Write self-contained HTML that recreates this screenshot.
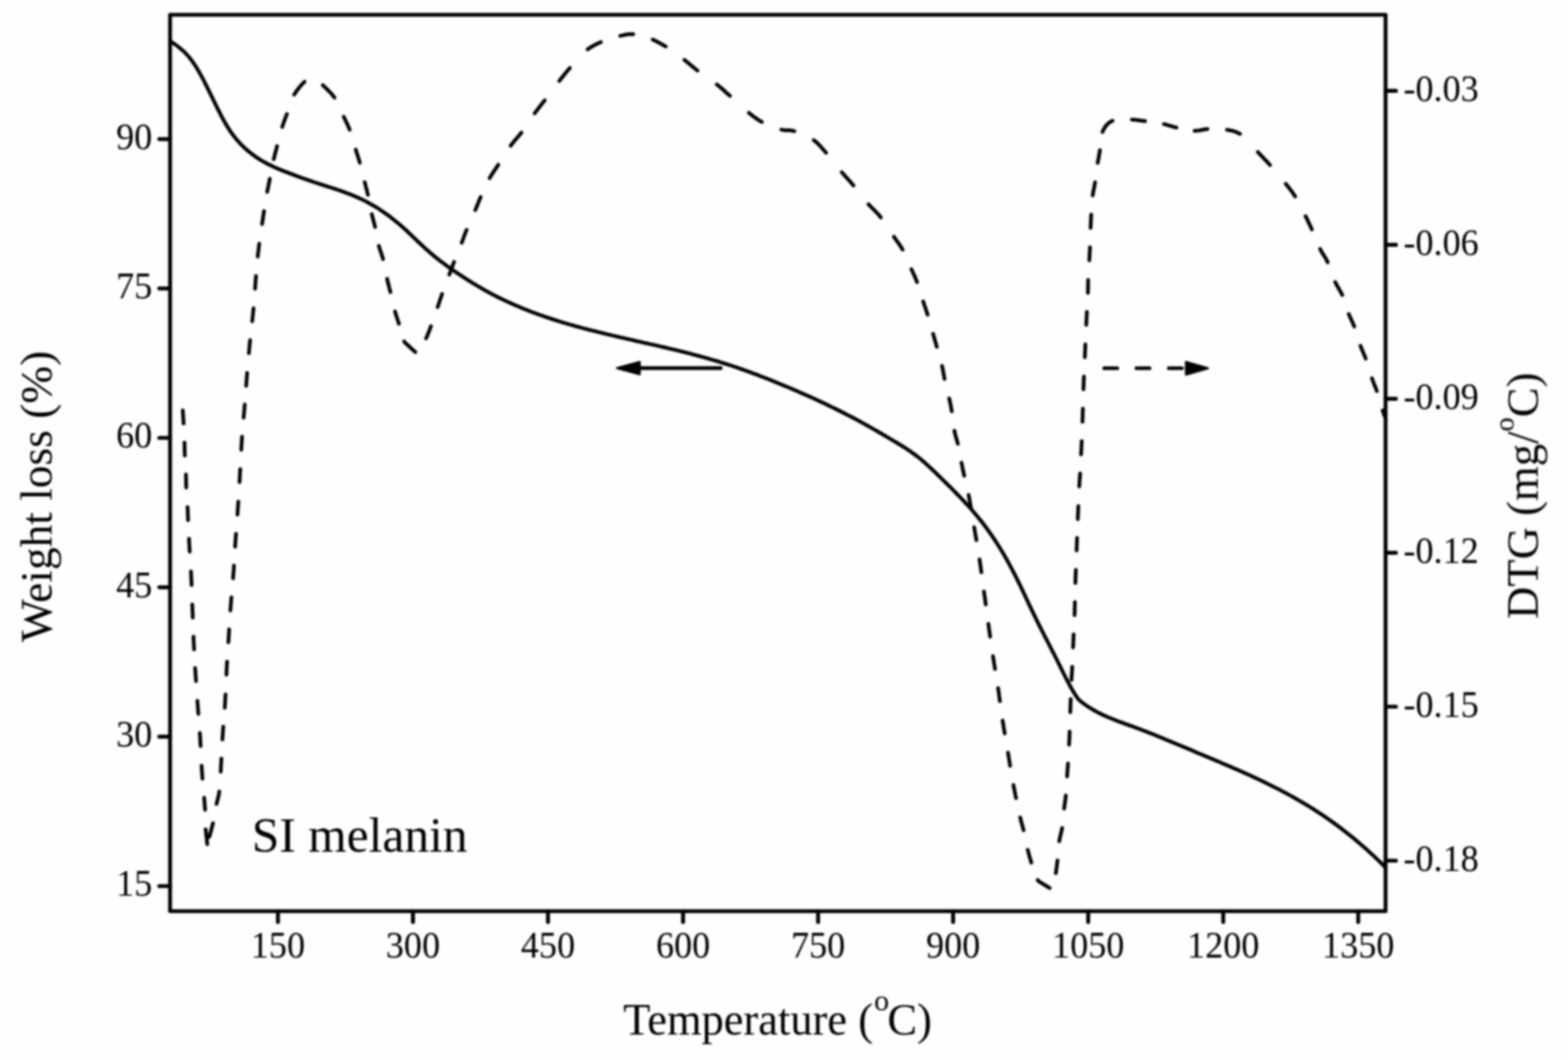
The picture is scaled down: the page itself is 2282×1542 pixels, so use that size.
<!DOCTYPE html>
<html><head><meta charset="utf-8"><title>SI melanin TG/DTG</title>
<style>
html,body{margin:0;padding:0;background:#fff;}
body{width:2282px;height:1542px;overflow:hidden;}
svg{display:block;}
text{font-family:"Liberation Serif","Times New Roman",serif;fill:#000;}
</style></head><body>
<svg width="2282" height="1542" viewBox="0 0 2282 1542">
<rect x="0" y="0" width="2282" height="1542" fill="#fefefe"/>
<g style="filter:blur(1.4px)">
<g stroke="#000" stroke-width="5.7" fill="none" stroke-linecap="round">
<line x1="404.5" y1="1325.5" x2="404.5" y2="1341.2"/>
<line x1="601.0" y1="1325.5" x2="601.0" y2="1341.2"/>
<line x1="797.5" y1="1325.5" x2="797.5" y2="1341.2"/>
<line x1="994.1" y1="1325.5" x2="994.1" y2="1341.2"/>
<line x1="1190.6" y1="1325.5" x2="1190.6" y2="1341.2"/>
<line x1="1387.1" y1="1325.5" x2="1387.1" y2="1341.2"/>
<line x1="1583.7" y1="1325.5" x2="1583.7" y2="1341.2"/>
<line x1="1780.2" y1="1325.5" x2="1780.2" y2="1341.2"/>
<line x1="1976.7" y1="1325.5" x2="1976.7" y2="1341.2"/>
<line x1="231.8" y1="1289.0" x2="247.5" y2="1289.0"/>
<line x1="231.8" y1="1071.7" x2="247.5" y2="1071.7"/>
<line x1="231.8" y1="854.3" x2="247.5" y2="854.3"/>
<line x1="231.8" y1="637.0" x2="247.5" y2="637.0"/>
<line x1="231.8" y1="419.6" x2="247.5" y2="419.6"/>
<line x1="231.8" y1="202.3" x2="247.5" y2="202.3"/>
<line x1="2016.5" y1="132.2" x2="2031.6" y2="132.2"/>
<line x1="2016.5" y1="356.2" x2="2031.6" y2="356.2"/>
<line x1="2016.5" y1="580.1" x2="2031.6" y2="580.1"/>
<line x1="2016.5" y1="804.1" x2="2031.6" y2="804.1"/>
<line x1="2016.5" y1="1028.0" x2="2031.6" y2="1028.0"/>
<line x1="2016.5" y1="1252.0" x2="2031.6" y2="1252.0"/>
</g>
<path d="M248.5 60.5 C249.5 61.2 252.5 63.0 254.5 64.4 C256.5 65.8 258.5 67.2 260.5 68.8 C262.5 70.4 264.5 72.1 266.5 73.9 C268.5 75.8 270.5 77.8 272.5 80.0 C274.5 82.2 276.5 84.6 278.5 87.3 C280.5 89.9 282.5 92.8 284.5 95.9 C286.5 99.0 288.5 102.4 290.5 106.0 C292.5 109.5 294.5 113.3 296.6 117.2 C298.6 121.1 300.6 125.1 302.6 129.2 C304.6 133.2 306.6 137.4 308.6 141.5 C310.6 145.6 312.6 149.7 314.6 153.8 C316.6 157.8 318.6 161.8 320.6 165.7 C322.6 169.5 324.6 173.3 326.6 176.9 C328.6 180.4 330.6 183.8 332.6 187.0 C334.6 190.1 336.6 193.0 338.6 195.7 C340.6 198.5 342.6 200.9 344.6 203.3 C346.6 205.6 348.6 207.8 350.6 209.9 C352.6 211.9 354.6 213.8 356.6 215.7 C358.6 217.5 360.6 219.2 362.6 220.9 C364.6 222.5 366.6 224.0 368.6 225.5 C370.6 227.0 372.6 228.4 374.6 229.7 C376.6 231.1 378.6 232.3 380.6 233.5 C382.6 234.7 384.6 235.8 386.6 236.9 C388.6 238.0 390.7 239.0 392.7 240.0 C394.7 241.0 396.7 241.9 398.7 242.9 C400.7 243.8 402.7 244.6 404.7 245.5 C406.7 246.3 408.7 247.2 410.7 248.0 C412.7 248.8 414.7 249.6 416.7 250.3 C418.7 251.1 420.7 251.9 422.7 252.6 C424.7 253.4 426.7 254.2 428.7 254.9 C430.7 255.6 432.7 256.4 434.7 257.1 C436.7 257.8 438.7 258.6 440.7 259.3 C442.7 260.0 444.7 260.7 446.7 261.4 C448.7 262.1 450.7 262.8 452.7 263.4 C454.7 264.1 456.7 264.8 458.7 265.5 C460.7 266.1 462.7 266.8 464.7 267.4 C466.7 268.1 468.7 268.7 470.7 269.4 C472.7 270.0 474.7 270.7 476.7 271.3 C478.7 271.9 480.7 272.6 482.7 273.2 C484.8 273.9 486.8 274.6 488.8 275.2 C490.8 275.9 492.8 276.6 494.8 277.3 C496.8 278.0 498.8 278.7 500.8 279.4 C502.8 280.1 504.8 280.9 506.8 281.6 C508.8 282.4 510.8 283.2 512.8 284.0 C514.8 284.8 516.8 285.7 518.8 286.5 C520.8 287.4 522.8 288.3 524.8 289.2 C526.8 290.2 528.8 291.1 530.8 292.2 C532.8 293.2 534.8 294.2 536.8 295.3 C538.8 296.4 540.8 297.5 542.8 298.7 C544.8 299.8 546.8 301.0 548.8 302.3 C550.8 303.5 552.8 304.8 554.8 306.2 C556.8 307.5 558.8 308.9 560.8 310.3 C562.8 311.8 564.8 313.2 566.8 314.7 C568.8 316.2 570.8 317.8 572.8 319.4 C574.8 321.0 576.8 322.6 578.9 324.3 C580.9 326.0 582.9 327.7 584.9 329.4 C586.9 331.2 588.9 333.0 590.9 334.8 C592.9 336.7 594.9 338.6 596.9 340.5 C598.9 342.4 600.9 344.3 602.9 346.2 C604.9 348.1 606.9 350.0 608.9 352.0 C610.9 353.9 612.9 355.8 614.9 357.6 C616.9 359.5 618.9 361.4 620.9 363.1 C622.9 364.9 624.9 366.7 626.9 368.4 C628.9 370.1 630.9 371.8 632.9 373.4 C634.9 375.0 636.9 376.6 638.9 378.1 C640.9 379.7 642.9 381.2 644.9 382.7 C646.9 384.2 648.9 385.7 650.9 387.1 C652.9 388.5 654.9 390.0 656.9 391.4 C658.9 392.8 660.9 394.2 662.9 395.5 C664.9 396.9 666.9 398.3 668.9 399.6 C670.9 400.9 672.9 402.2 675.0 403.6 C677.0 404.9 679.0 406.1 681.0 407.4 C683.0 408.7 685.0 409.9 687.0 411.2 C689.0 412.4 691.0 413.6 693.0 414.8 C695.0 416.0 697.0 417.2 699.0 418.3 C701.0 419.5 703.0 420.6 705.0 421.8 C707.0 422.9 709.0 424.0 711.0 425.1 C713.0 426.1 715.0 427.2 717.0 428.3 C719.0 429.3 721.0 430.3 723.0 431.3 C725.0 432.4 727.0 433.4 729.0 434.3 C731.0 435.3 733.0 436.3 735.0 437.2 C737.0 438.2 739.0 439.1 741.0 440.0 C743.0 440.9 745.0 441.8 747.0 442.7 C749.0 443.6 751.0 444.5 753.0 445.3 C755.0 446.2 757.0 447.0 759.0 447.9 C761.0 448.7 763.0 449.5 765.0 450.3 C767.0 451.1 769.1 451.9 771.1 452.7 C773.1 453.4 775.1 454.2 777.1 455.0 C779.1 455.7 781.1 456.4 783.1 457.2 C785.1 457.9 787.1 458.6 789.1 459.3 C791.1 460.0 793.1 460.7 795.1 461.4 C797.1 462.1 799.1 462.7 801.1 463.4 C803.1 464.1 805.1 464.7 807.1 465.4 C809.1 466.0 811.1 466.6 813.1 467.2 C815.1 467.9 817.1 468.5 819.1 469.1 C821.1 469.7 823.1 470.3 825.1 470.9 C827.1 471.5 829.1 472.0 831.1 472.6 C833.1 473.2 835.1 473.7 837.1 474.3 C839.1 474.9 841.1 475.4 843.1 475.9 C845.1 476.5 847.1 477.0 849.1 477.6 C851.1 478.1 853.1 478.6 855.1 479.1 C857.1 479.7 859.1 480.2 861.1 480.7 C863.2 481.2 865.2 481.7 867.2 482.2 C869.2 482.7 871.2 483.2 873.2 483.7 C875.2 484.2 877.2 484.6 879.2 485.1 C881.2 485.6 883.2 486.1 885.2 486.6 C887.2 487.0 889.2 487.5 891.2 488.0 C893.2 488.5 895.2 488.9 897.2 489.4 C899.2 489.9 901.2 490.3 903.2 490.8 C905.2 491.2 907.2 491.7 909.2 492.2 C911.2 492.6 913.2 493.1 915.2 493.5 C917.2 494.0 919.2 494.4 921.2 494.9 C923.2 495.4 925.2 495.8 927.2 496.3 C929.2 496.7 931.2 497.2 933.2 497.6 C935.2 498.1 937.2 498.5 939.2 499.0 C941.2 499.4 943.2 499.9 945.2 500.3 C947.2 500.8 949.2 501.3 951.2 501.7 C953.2 502.2 955.2 502.6 957.3 503.1 C959.3 503.5 961.3 504.0 963.3 504.5 C965.3 504.9 967.3 505.4 969.3 505.9 C971.3 506.4 973.3 506.8 975.3 507.3 C977.3 507.8 979.3 508.3 981.3 508.7 C983.3 509.2 985.3 509.7 987.3 510.2 C989.3 510.7 991.3 511.2 993.3 511.7 C995.3 512.2 997.3 512.7 999.3 513.2 C1001.3 513.7 1003.3 514.2 1005.3 514.7 C1007.3 515.3 1009.3 515.8 1011.3 516.3 C1013.3 516.8 1015.3 517.4 1017.3 517.9 C1019.3 518.5 1021.3 519.0 1023.3 519.6 C1025.3 520.1 1027.3 520.7 1029.3 521.2 C1031.3 521.8 1033.3 522.4 1035.3 523.0 C1037.3 523.5 1039.3 524.1 1041.3 524.7 C1043.3 525.3 1045.3 525.9 1047.3 526.5 C1049.3 527.2 1051.4 527.8 1053.4 528.4 C1055.4 529.0 1057.4 529.7 1059.4 530.3 C1061.4 531.0 1063.4 531.6 1065.4 532.3 C1067.4 533.0 1069.4 533.6 1071.4 534.3 C1073.4 535.0 1075.4 535.7 1077.4 536.4 C1079.4 537.1 1081.4 537.8 1083.4 538.5 C1085.4 539.2 1087.4 539.9 1089.4 540.6 C1091.4 541.4 1093.4 542.1 1095.4 542.9 C1097.4 543.6 1099.4 544.3 1101.4 545.1 C1103.4 545.9 1105.4 546.6 1107.4 547.4 C1109.4 548.2 1111.4 548.9 1113.4 549.7 C1115.4 550.5 1117.4 551.3 1119.4 552.1 C1121.4 552.9 1123.4 553.7 1125.4 554.5 C1127.4 555.3 1129.4 556.1 1131.4 556.9 C1133.4 557.7 1135.4 558.6 1137.4 559.4 C1139.4 560.2 1141.4 561.1 1143.4 561.9 C1145.5 562.7 1147.5 563.6 1149.5 564.4 C1151.5 565.3 1153.5 566.1 1155.5 567.0 C1157.5 567.9 1159.5 568.7 1161.5 569.6 C1163.5 570.5 1165.5 571.3 1167.5 572.2 C1169.5 573.1 1171.5 574.0 1173.5 574.9 C1175.5 575.7 1177.5 576.6 1179.5 577.5 C1181.5 578.4 1183.5 579.4 1185.5 580.3 C1187.5 581.2 1189.5 582.1 1191.5 583.0 C1193.5 584.0 1195.5 584.9 1197.5 585.8 C1199.5 586.8 1201.5 587.7 1203.5 588.7 C1205.5 589.6 1207.5 590.6 1209.5 591.6 C1211.5 592.5 1213.5 593.5 1215.5 594.5 C1217.5 595.5 1219.5 596.5 1221.5 597.5 C1223.5 598.5 1225.5 599.5 1227.5 600.5 C1229.5 601.5 1231.5 602.6 1233.5 603.6 C1235.5 604.6 1237.5 605.7 1239.6 606.7 C1241.6 607.8 1243.6 608.9 1245.6 609.9 C1247.6 611.0 1249.6 612.1 1251.6 613.2 C1253.6 614.3 1255.6 615.4 1257.6 616.5 C1259.6 617.6 1261.6 618.7 1263.6 619.8 C1265.6 620.9 1267.6 622.1 1269.6 623.2 C1271.6 624.4 1273.6 625.5 1275.6 626.6 C1277.6 627.8 1279.6 629.0 1281.6 630.1 C1283.6 631.3 1285.6 632.5 1287.6 633.6 C1289.6 634.8 1291.6 636.0 1293.6 637.2 C1295.6 638.4 1297.6 639.6 1299.6 640.8 C1301.6 642.0 1303.6 643.2 1305.6 644.4 C1307.6 645.6 1309.6 646.8 1311.6 648.0 C1313.6 649.3 1315.6 650.5 1317.6 651.8 C1319.6 653.1 1321.6 654.4 1323.6 655.8 C1325.6 657.2 1327.6 658.5 1329.6 660.0 C1331.6 661.5 1333.6 663.0 1335.7 664.5 C1337.7 666.1 1339.7 667.7 1341.7 669.4 C1343.7 671.1 1345.7 672.9 1347.7 674.7 C1349.7 676.5 1351.7 678.3 1353.7 680.2 C1355.7 682.0 1357.7 684.0 1359.7 685.9 C1361.7 687.8 1363.7 689.8 1365.7 691.7 C1367.7 693.7 1369.7 695.7 1371.7 697.6 C1373.7 699.6 1375.7 701.5 1377.7 703.5 C1379.7 705.5 1381.7 707.5 1383.7 709.4 C1385.7 711.4 1387.7 713.4 1389.7 715.5 C1391.7 717.5 1393.7 719.5 1395.7 721.6 C1397.7 723.6 1399.7 725.7 1401.7 727.8 C1403.7 730.0 1405.7 732.1 1407.7 734.3 C1409.7 736.5 1411.7 738.7 1413.7 741.0 C1415.7 743.3 1417.7 745.6 1419.7 748.0 C1421.7 750.4 1423.7 752.8 1425.7 755.3 C1427.7 757.8 1429.8 760.4 1431.8 763.0 C1433.8 765.6 1435.8 768.3 1437.8 771.1 C1439.8 773.8 1441.8 776.7 1443.8 779.6 C1445.8 782.5 1447.8 785.5 1449.8 788.6 C1451.8 791.7 1453.8 794.8 1455.8 798.1 C1457.8 801.4 1459.8 804.7 1461.8 808.2 C1463.8 811.6 1465.8 815.2 1467.8 818.8 C1469.8 822.5 1471.8 826.2 1473.8 830.0 C1475.8 833.8 1477.8 837.7 1479.8 841.7 C1481.8 845.7 1483.8 849.8 1485.8 854.0 C1487.8 858.1 1489.8 862.4 1491.8 866.7 C1493.8 870.9 1495.8 875.3 1497.8 879.5 C1499.8 883.7 1501.8 887.9 1503.8 892.0 C1505.8 896.1 1507.8 900.2 1509.8 904.2 C1511.8 908.2 1513.8 912.2 1515.8 916.2 C1517.8 920.1 1519.8 924.1 1521.8 928.0 C1523.9 931.9 1525.9 935.8 1527.9 939.8 C1529.9 943.7 1531.9 947.6 1533.9 951.5 C1535.9 955.4 1537.9 959.4 1539.9 963.4 C1541.9 967.4 1543.9 971.6 1545.9 975.6 C1547.9 979.6 1549.9 983.7 1551.9 987.6 C1553.9 991.5 1555.9 995.3 1557.9 998.9 C1559.9 1002.5 1561.9 1005.9 1563.9 1009.0 C1565.9 1012.1 1567.9 1015.3 1569.9 1017.6 C1571.9 1019.8 1573.9 1021.0 1575.9 1022.6 C1577.9 1024.1 1579.9 1025.5 1582.0 1026.9 C1584.0 1028.2 1586.0 1029.5 1588.0 1030.7 C1590.0 1032.0 1592.0 1033.1 1594.0 1034.3 C1596.0 1035.4 1598.0 1036.4 1600.0 1037.5 C1602.1 1038.5 1604.1 1039.5 1606.1 1040.4 C1608.1 1041.4 1610.1 1042.2 1612.1 1043.1 C1614.1 1044.0 1616.1 1044.8 1618.1 1045.6 C1620.1 1046.4 1622.1 1047.2 1624.2 1048.0 C1626.2 1048.8 1628.2 1049.5 1630.2 1050.3 C1632.2 1051.0 1634.2 1051.7 1636.2 1052.4 C1638.2 1053.2 1640.2 1053.9 1642.2 1054.6 C1644.3 1055.3 1646.3 1056.0 1648.3 1056.8 C1650.3 1057.5 1652.3 1058.3 1654.3 1059.0 C1656.3 1059.7 1658.3 1060.5 1660.3 1061.3 C1662.3 1062.0 1664.3 1062.8 1666.4 1063.6 C1668.4 1064.4 1670.4 1065.1 1672.4 1065.9 C1674.4 1066.7 1676.4 1067.5 1678.4 1068.3 C1680.4 1069.1 1682.4 1069.9 1684.4 1070.7 C1686.4 1071.5 1688.5 1072.4 1690.5 1073.2 C1692.5 1074.0 1694.5 1074.8 1696.5 1075.7 C1698.5 1076.5 1700.5 1077.3 1702.5 1078.2 C1704.5 1079.0 1706.5 1079.8 1708.6 1080.7 C1710.6 1081.5 1712.6 1082.3 1714.6 1083.2 C1716.6 1084.0 1718.6 1084.9 1720.6 1085.7 C1722.6 1086.6 1724.6 1087.4 1726.6 1088.3 C1728.6 1089.1 1730.7 1090.0 1732.7 1090.8 C1734.7 1091.7 1736.7 1092.5 1738.7 1093.4 C1740.7 1094.2 1742.7 1095.1 1744.7 1095.9 C1746.7 1096.8 1748.7 1097.6 1750.8 1098.5 C1752.8 1099.3 1754.8 1100.1 1756.8 1101.0 C1758.8 1101.8 1760.8 1102.7 1762.8 1103.5 C1764.8 1104.4 1766.8 1105.2 1768.8 1106.1 C1770.8 1106.9 1772.9 1107.8 1774.9 1108.6 C1776.9 1109.5 1778.9 1110.3 1780.9 1111.2 C1782.9 1112.0 1784.9 1112.9 1786.9 1113.8 C1788.9 1114.6 1790.9 1115.5 1793.0 1116.4 C1795.0 1117.2 1797.0 1118.1 1799.0 1119.0 C1801.0 1119.9 1803.0 1120.7 1805.0 1121.6 C1807.0 1122.5 1809.0 1123.4 1811.0 1124.3 C1813.0 1125.2 1815.1 1126.1 1817.1 1127.0 C1819.1 1127.9 1821.1 1128.9 1823.1 1129.8 C1825.1 1130.7 1827.1 1131.7 1829.1 1132.6 C1831.1 1133.5 1833.1 1134.5 1835.1 1135.4 C1837.2 1136.4 1839.2 1137.4 1841.2 1138.3 C1843.2 1139.3 1845.2 1140.3 1847.2 1141.3 C1849.2 1142.3 1851.2 1143.3 1853.2 1144.3 C1855.2 1145.3 1857.3 1146.3 1859.3 1147.4 C1861.3 1148.4 1863.3 1149.4 1865.3 1150.5 C1867.3 1151.6 1869.3 1152.6 1871.3 1153.7 C1873.3 1154.8 1875.3 1155.9 1877.3 1157.0 C1879.4 1158.1 1881.4 1159.2 1883.4 1160.4 C1885.4 1161.5 1887.4 1162.6 1889.4 1163.8 C1891.4 1165.0 1893.4 1166.1 1895.4 1167.3 C1897.4 1168.5 1899.5 1169.7 1901.5 1170.9 C1903.5 1172.1 1905.5 1173.4 1907.5 1174.6 C1909.5 1175.9 1911.5 1177.2 1913.5 1178.4 C1915.5 1179.7 1917.5 1181.0 1919.5 1182.3 C1921.6 1183.7 1923.6 1185.0 1925.6 1186.3 C1927.6 1187.7 1929.6 1189.1 1931.6 1190.5 C1933.6 1191.8 1935.6 1193.3 1937.6 1194.7 C1939.6 1196.1 1941.6 1197.6 1943.7 1199.0 C1945.7 1200.5 1947.7 1202.0 1949.7 1203.5 C1951.7 1205.0 1953.7 1206.5 1955.7 1208.1 C1957.7 1209.6 1959.7 1211.2 1961.7 1212.8 C1963.8 1214.4 1965.8 1216.0 1967.8 1217.6 C1969.8 1219.3 1971.8 1220.9 1973.8 1222.6 C1975.8 1224.3 1977.8 1226.0 1979.8 1227.7 C1981.8 1229.4 1983.8 1231.2 1985.9 1233.0 C1987.9 1234.7 1989.9 1236.5 1991.9 1238.4 C1993.9 1240.2 1995.9 1242.0 1997.9 1243.9 C1999.9 1245.8 2001.9 1247.7 2003.9 1249.6 C2006.0 1251.6 2008.0 1253.5 2010.0 1255.5 C2012.0 1257.5 2015.0 1260.5 2016.0 1261.5" fill="none" stroke="#000" stroke-width="5.4" stroke-linejoin="round" stroke-linecap="round"/>
<path d="M266.0 597.0 L266.1 597.9 L266.1 598.9 L266.2 600.0 L266.3 601.4 L266.4 602.8 L266.5 604.4 L266.6 606.0 L266.7 607.8 L266.9 609.6 L267.0 611.4 L267.1 613.4 L267.2 615.3 L267.2 616.1 M268.5 643.8 L268.6 645.6 L268.6 647.2 L268.6 648.8 L268.7 650.2 L268.7 651.6 L268.7 653.0 L268.7 654.3 L268.8 655.6 L268.8 657.0 L268.8 658.5 L268.9 660.0 L268.9 661.6 L269.0 662.7 M270.6 690.1 L270.6 691.7 L270.7 693.3 L270.8 694.8 L270.8 696.3 L270.8 697.7 L270.8 699.1 L270.8 700.4 L270.8 701.7 L270.9 703.1 L270.9 704.6 L270.9 706.1 L271.0 707.7 L271.1 709.4 M273.0 737.7 L273.0 739.1 L273.1 740.9 L273.2 742.6 L273.3 744.1 L273.3 745.5 L273.4 746.9 L273.4 748.2 L273.4 749.5 L273.5 750.9 L273.5 752.3 L273.6 753.9 L273.6 755.5 L273.7 756.7 M275.1 783.6 L275.1 785.1 L275.2 786.5 L275.3 788.0 L275.4 789.5 L275.4 791.0 L275.5 792.5 L275.6 794.0 L275.7 795.5 L275.8 797.0 L275.9 798.5 L275.9 800.0 L276.0 801.6 L276.1 802.6 M277.9 831.2 L278.0 832.8 L278.1 834.4 L278.2 836.1 L278.2 837.9 L278.3 839.7 L278.4 841.4 L278.5 842.7 L278.5 844.0 L278.6 845.3 L278.6 846.7 L278.7 848.0 L278.8 849.4 L278.8 850.9 M279.8 879.3 L279.9 880.9 L280.0 882.4 L280.0 884.0 L280.1 885.5 L280.1 887.0 L280.2 888.5 L280.2 890.0 L280.3 891.5 L280.4 893.1 L280.4 894.6 L280.5 896.1 L280.5 897.6 L280.6 898.6 M281.6 926.2 L281.6 927.7 L281.7 929.2 L281.8 930.6 L281.8 932.1 L281.9 933.6 L282.0 935.1 L282.0 936.6 L282.1 938.1 L282.2 939.7 L282.3 941.2 L282.4 942.7 L282.4 944.2 L282.5 944.7 M284.0 971.8 L284.1 973.3 L284.2 974.8 L284.3 976.4 L284.4 977.9 L284.5 979.4 L284.6 981.0 L284.7 982.5 L284.8 983.9 L284.9 985.4 L285.0 986.9 L285.1 988.4 L285.2 989.9 L285.3 990.9 M287.3 1019.5 L287.4 1021.0 L287.5 1022.5 L287.6 1024.0 L287.8 1025.5 L287.9 1027.0 L288.0 1028.5 L288.1 1030.0 L288.2 1031.5 L288.3 1033.1 L288.4 1034.6 L288.5 1036.1 L288.6 1037.6 L288.7 1038.6 M290.8 1066.1 L290.9 1067.6 L291.0 1069.1 L291.1 1070.6 L291.2 1072.1 L291.3 1073.7 L291.4 1075.2 L291.5 1076.7 L291.6 1078.2 L291.6 1079.7 L291.7 1081.2 L291.8 1082.7 L291.9 1084.3 L292.0 1085.3 M293.4 1113.9 L293.5 1115.4 L293.6 1116.8 L293.7 1118.2 L293.7 1119.6 L293.8 1121.0 L293.9 1122.4 L294.0 1123.7 L294.1 1125.4 L294.2 1127.2 L294.4 1128.9 L294.5 1130.6 L294.6 1132.3 L294.7 1132.8 M297.1 1160.4 L297.3 1162.5 L297.4 1164.4 L297.6 1166.0 L297.7 1167.6 L297.8 1169.0 L297.9 1170.3 L298.0 1171.6 L298.1 1172.9 L298.2 1174.2 L298.3 1175.6 L298.4 1177.0 L298.5 1178.1 M315.1 1169.4 L315.5 1168.0 L315.8 1166.6 L316.2 1165.3 L316.5 1164.0 L316.9 1162.7 L317.2 1161.4 L317.5 1160.0 L317.9 1158.6 L318.2 1157.2 L318.5 1155.6 L318.8 1153.9 L319.0 1152.1 L319.1 1151.5 M321.2 1122.5 L321.3 1120.8 L321.4 1119.2 L321.4 1117.5 L321.5 1115.8 L321.6 1114.1 L321.7 1112.5 L321.8 1111.2 L321.9 1109.8 L322.0 1108.4 L322.1 1106.9 L322.1 1105.5 L322.2 1104.0 L322.2 1103.5 M323.7 1075.8 L323.8 1074.3 L323.9 1072.7 L324.0 1071.2 L324.1 1069.7 L324.2 1068.1 L324.3 1066.6 L324.4 1065.1 L324.5 1063.6 L324.6 1062.1 L324.7 1060.6 L324.8 1059.1 L324.9 1057.6 L325.0 1057.1 M327.1 1029.6 L327.2 1028.1 L327.3 1026.6 L327.4 1025.1 L327.5 1023.6 L327.6 1022.0 L327.7 1020.5 L327.8 1019.0 L327.8 1017.5 L327.9 1016.0 L328.0 1014.6 L328.1 1013.1 L328.2 1011.6 L328.2 1010.1 M329.5 981.5 L329.6 980.0 L329.7 978.5 L329.7 977.0 L329.8 975.5 L329.9 974.0 L330.0 972.5 L330.1 971.0 L330.1 969.5 L330.2 968.0 L330.3 966.5 L330.4 964.9 L330.5 963.4 L330.5 962.4 M332.3 934.4 L332.4 933.0 L332.5 931.5 L332.6 930.0 L332.7 928.5 L332.8 927.0 L332.9 925.5 L333.0 924.0 L333.1 922.5 L333.2 921.0 L333.3 919.5 L333.3 918.0 L333.4 916.5 L333.5 915.5 M335.3 888.1 L335.4 886.6 L335.5 885.1 L335.6 883.6 L335.7 882.1 L335.9 880.6 L336.0 879.1 L336.1 877.6 L336.2 876.1 L336.3 874.6 L336.4 873.1 L336.6 871.6 L336.7 870.0 L336.8 869.0 M339.2 841.2 L339.3 839.7 L339.4 838.3 L339.5 836.8 L339.6 835.4 L339.8 833.9 L339.9 832.5 L340.0 831.0 L340.1 829.4 L340.2 827.9 L340.3 826.4 L340.4 824.9 L340.5 823.5 L340.5 822.6 M342.2 795.3 L342.3 793.6 L342.4 791.8 L342.5 790.0 L342.6 788.7 L342.7 787.4 L342.8 786.1 L342.9 784.7 L343.0 783.3 L343.1 781.9 L343.2 780.4 L343.3 779.0 L343.4 777.5 L343.5 776.5 M345.5 748.6 L345.7 747.1 L345.8 745.5 L345.9 744.0 L346.0 742.4 L346.1 740.9 L346.2 739.4 L346.3 737.9 L346.4 736.4 L346.5 735.0 L346.6 733.6 L346.7 732.1 L346.8 730.8 L346.9 729.8 M348.6 701.4 L348.7 700.0 L348.8 698.5 L348.8 697.1 L348.9 695.6 L349.0 694.2 L349.1 692.7 L349.2 691.3 L349.2 689.8 L349.3 688.4 L349.4 686.9 L349.5 685.5 L349.6 684.0 L349.6 682.5 M351.1 654.3 L351.2 652.8 L351.3 651.3 L351.4 649.8 L351.5 648.3 L351.5 646.8 L351.6 645.3 L351.7 643.8 L351.8 642.3 L351.9 640.8 L352.0 639.3 L352.1 637.8 L352.2 636.3 L352.3 635.3 M354.5 607.6 L354.7 606.1 L354.8 604.6 L354.9 603.1 L355.1 601.6 L355.2 600.1 L355.3 598.6 L355.4 597.0 L355.6 595.5 L355.7 594.0 L355.8 592.5 L356.0 591.0 L356.1 589.5 L356.2 588.5 M358.2 561.4 L358.3 559.9 L358.5 558.4 L358.6 556.9 L358.7 555.4 L358.8 553.9 L358.9 552.4 L359.0 550.9 L359.1 549.4 L359.3 547.9 L359.4 546.4 L359.5 544.9 L359.6 543.4 L359.7 542.4 M362.2 513.8 L362.3 512.3 L362.5 510.8 L362.6 509.3 L362.8 507.8 L362.9 506.3 L363.0 504.7 L363.2 503.2 L363.3 501.7 L363.5 500.2 L363.6 498.7 L363.8 497.2 L363.9 495.7 L364.0 494.7 M367.0 467.3 L367.2 465.8 L367.3 464.3 L367.5 462.8 L367.6 461.3 L367.8 459.8 L368.0 458.3 L368.1 456.8 L368.3 455.3 L368.4 453.8 L368.6 452.4 L368.7 450.9 L368.9 449.5 L369.0 448.5 M371.2 420.1 L371.3 418.6 L371.4 417.2 L371.5 415.7 L371.6 414.2 L371.7 412.8 L371.8 411.3 L371.9 409.8 L372.0 408.4 L372.1 406.9 L372.3 405.5 L372.4 404.0 L372.5 402.4 L372.6 401.4 M375.1 373.4 L375.2 371.9 L375.4 370.4 L375.6 368.9 L375.7 367.5 L375.9 366.0 L376.1 364.5 L376.2 363.0 L376.4 361.5 L376.6 360.0 L376.8 358.5 L377.0 357.0 L377.2 355.5 L377.3 354.5 M381.4 326.0 L381.6 324.5 L381.8 323.1 L382.1 321.6 L382.3 320.0 L382.5 318.5 L382.8 317.0 L383.0 315.4 L383.2 313.9 L383.5 312.3 L383.7 310.7 L384.0 309.1 L384.2 307.6 L384.3 307.1 M388.9 279.1 L389.2 277.5 L389.5 275.9 L389.8 274.4 L390.1 273.0 L390.4 271.6 L390.7 270.2 L390.9 268.8 L391.2 267.4 L391.5 266.1 L391.8 264.7 L392.1 263.3 L392.3 262.0 L392.6 260.5 L392.7 260.1 M398.4 231.6 L398.8 230.0 L399.2 228.5 L399.5 227.1 L399.8 225.7 L400.2 224.3 L400.5 223.0 L400.9 221.6 L401.2 220.2 L401.6 218.8 L402.0 217.4 L402.4 215.8 L402.8 214.3 L403.2 212.6 M410.8 184.7 L411.2 183.4 L411.7 181.8 L412.2 180.2 L412.7 178.7 L413.2 177.2 L413.8 175.8 L414.3 174.4 L414.8 173.1 L415.3 171.7 L415.8 170.4 L416.3 169.1 L416.8 167.7 L417.4 166.3 L417.5 165.9 M428.2 137.6 L429.0 136.3 L429.9 135.0 L430.8 133.6 L431.7 132.3 L432.7 131.0 L433.7 129.6 L434.7 128.3 L435.8 127.0 L436.8 125.7 L437.9 124.5 L438.9 123.3 L439.9 122.2 L440.9 121.1 L441.9 120.1 L442.9 119.1 L443.2 118.9 M469.8 123.9 L470.7 124.8 L471.7 125.7 L472.8 126.7 L473.9 127.8 L475.0 128.8 L476.1 129.9 L477.2 131.1 L478.4 132.2 L479.5 133.4 L480.7 134.6 L481.8 135.8 L482.9 137.0 L483.9 138.3 L484.9 139.5 L485.9 140.7 L486.8 142.0 M500.3 169.8 L500.9 171.1 L501.6 172.5 L502.2 173.9 L502.8 175.2 L503.5 176.6 L504.1 177.9 L504.7 179.3 L505.4 180.6 L506.0 181.9 L506.6 183.3 L507.2 184.7 L507.8 186.0 L508.3 187.4 L508.9 188.8 M517.8 217.6 L518.2 219.2 L518.7 220.7 L519.2 222.2 L519.6 223.6 L520.1 225.0 L520.5 226.4 L521.0 227.7 L521.4 229.1 L521.8 230.5 L522.2 231.9 L522.7 233.3 L523.1 234.8 L523.6 236.3 L523.7 236.8 M530.8 264.9 L531.2 266.5 L531.6 268.0 L532.0 269.5 L532.3 270.9 L532.7 272.3 L533.1 273.7 L533.4 275.1 L533.8 276.5 L534.1 278.0 L534.5 279.4 L534.8 280.9 L535.2 282.4 L535.5 283.5 M541.1 311.6 L541.5 313.2 L541.9 314.7 L542.3 316.2 L542.6 317.6 L543.0 319.0 L543.4 320.4 L543.7 321.8 L544.1 323.2 L544.5 324.7 L544.9 326.1 L545.2 327.6 L545.6 329.1 L545.9 330.2 M551.4 357.7 L551.9 359.3 L552.3 360.8 L552.7 362.3 L553.2 363.7 L553.7 365.1 L554.2 366.5 L554.6 367.8 L555.1 369.2 L555.6 370.6 L556.0 372.0 L556.5 373.4 L556.9 374.9 L557.4 376.4 L557.5 376.9 M563.4 405.6 L563.7 407.2 L564.1 408.7 L564.4 410.1 L564.8 411.5 L565.1 412.9 L565.5 414.2 L565.8 415.6 L566.2 417.0 L566.5 418.4 L566.9 419.8 L567.3 421.4 L567.7 422.9 L568.1 424.6 L568.2 425.0 M574.9 453.0 L575.4 454.6 L575.8 456.1 L576.2 457.6 L576.7 459.0 L577.1 460.4 L577.6 461.7 L578.0 463.1 L578.5 464.4 L578.9 465.8 L579.4 467.2 L579.8 468.6 L580.3 470.0 L580.6 471.0 M588.2 496.6 L588.4 497.2 L588.5 497.5 L588.6 497.6 L589.0 498.0 L589.8 498.7 L590.8 499.6 L592.0 500.8 L593.4 502.0 L594.8 503.4 L596.4 504.8 L597.9 506.2 L599.4 507.6 L600.8 508.8 L602.0 509.9 L603.0 510.8 L604.5 512.2 M620.1 492.2 L620.7 490.9 L621.3 489.5 L621.9 488.2 L622.5 486.9 L623.0 485.5 L623.6 484.1 L624.1 482.8 L624.6 481.4 L625.2 479.9 L625.7 478.5 L626.3 477.0 L626.8 475.5 L627.2 474.5 M636.9 446.7 L637.5 445.0 L638.0 443.5 L638.5 442.0 L639.0 440.7 L639.4 439.3 L639.8 438.1 L640.2 436.8 L640.7 435.5 L641.1 434.2 L641.6 432.8 L642.1 431.3 L642.7 429.7 L643.3 428.0 L643.4 427.6 M653.9 399.5 L654.5 397.9 L655.1 396.4 L655.6 394.9 L656.1 393.5 L656.6 392.2 L657.1 390.8 L657.6 389.5 L658.1 388.2 L658.6 386.9 L659.1 385.6 L659.6 384.2 L660.1 382.8 L660.7 381.4 L660.9 380.9 M671.9 353.3 L672.5 351.7 L673.1 350.3 L673.6 348.8 L674.1 347.4 L674.6 346.1 L675.1 344.7 L675.6 343.4 L676.0 342.1 L676.5 340.7 L677.0 339.4 L677.5 338.0 L678.1 336.6 L678.7 335.2 L679.1 334.2 M691.7 305.6 L692.4 304.1 L693.0 302.7 L693.5 301.2 L694.1 299.8 L694.7 298.5 L695.2 297.1 L695.8 295.7 L696.3 294.4 L696.8 293.0 L697.4 291.7 L698.0 290.3 L698.5 288.9 L699.1 287.5 L699.5 286.6 M712.6 259.1 L713.4 257.8 L714.1 256.5 L714.9 255.2 L715.7 254.0 L716.5 252.7 L717.3 251.5 L718.1 250.3 L718.9 249.0 L719.8 247.8 L720.6 246.6 L721.4 245.3 L722.3 244.1 L723.2 242.8 L724.0 241.5 L724.9 240.2 L725.2 239.7 M743.2 212.0 L744.2 210.7 L745.1 209.4 L746.1 208.2 L747.0 207.0 L748.0 205.9 L748.9 204.7 L749.9 203.6 L750.9 202.4 L751.8 201.3 L752.8 200.2 L753.7 199.1 L754.7 198.0 L755.6 196.8 L756.6 195.7 L757.6 194.5 L758.5 193.3 L758.8 192.9 M778.1 164.9 L779.0 163.7 L779.9 162.5 L780.8 161.3 L781.7 160.1 L782.6 158.9 L783.5 157.8 L784.4 156.6 L785.3 155.4 L786.2 154.3 L787.2 153.1 L788.1 151.9 L789.0 150.7 L789.9 149.5 L790.9 148.3 L791.8 147.1 L792.8 145.8 M814.0 117.8 L814.9 116.5 L815.9 115.3 L816.8 114.1 L817.8 112.9 L818.7 111.8 L819.6 110.6 L820.5 109.5 L821.4 108.3 L822.3 107.2 L823.3 106.1 L824.2 104.9 L825.1 103.8 L826.1 102.7 L827.0 101.5 L828.0 100.4 L829.0 99.2 L829.3 98.9 M855.2 71.9 L856.5 70.9 L857.8 70.0 L859.1 69.2 L860.4 68.4 L861.7 67.6 L863.0 66.8 L864.3 66.1 L865.6 65.4 L867.0 64.7 L868.3 64.1 L869.6 63.4 L871.0 62.8 L872.3 62.2 L873.6 61.6 L874.5 61.2 M902.6 52.1 L904.2 51.8 L905.7 51.4 L907.2 51.1 L908.7 50.8 L910.2 50.5 L911.6 50.2 L913.1 50.0 L914.5 49.9 L916.0 49.7 L917.5 49.7 L919.0 49.6 L920.6 49.7 L921.7 49.8 M949.9 57.6 L951.3 58.2 L952.7 58.8 L954.0 59.5 L955.4 60.2 L956.7 60.8 L958.1 61.6 L959.5 62.3 L960.8 63.0 L962.2 63.8 L963.5 64.5 L964.9 65.3 L966.2 66.1 L967.5 66.9 L968.9 67.7 M996.0 87.1 L997.2 88.0 L998.4 88.9 L999.6 89.9 L1000.7 90.8 L1001.8 91.7 L1002.9 92.7 L1004.0 93.6 L1005.1 94.5 L1006.3 95.5 L1007.4 96.4 L1008.5 97.4 L1009.7 98.3 L1010.9 99.3 L1012.1 100.3 L1013.4 101.3 L1014.7 102.3 L1015.1 102.7 M1043.2 122.8 L1044.5 123.9 L1045.7 124.8 L1046.9 125.8 L1048.1 126.8 L1049.2 127.7 L1050.3 128.7 L1051.4 129.6 L1052.5 130.6 L1053.5 131.5 L1054.6 132.5 L1055.7 133.5 L1056.7 134.4 L1057.8 135.4 L1058.9 136.4 L1060.1 137.4 L1061.2 138.5 L1062.4 139.5 M1089.9 164.1 L1091.2 165.1 L1092.4 166.1 L1093.7 167.1 L1094.9 168.0 L1096.1 169.0 L1097.2 169.9 L1098.4 170.7 L1099.6 171.6 L1100.8 172.5 L1102.0 173.3 L1103.3 174.1 L1104.5 174.9 L1105.8 175.7 L1107.1 176.5 L1108.4 177.2 L1108.8 177.5 M1137.1 188.5 L1138.7 188.9 L1140.4 189.2 L1142.0 189.4 L1143.4 189.5 L1144.8 189.6 L1146.1 189.5 L1147.4 189.5 L1148.8 189.5 L1150.2 189.6 L1151.6 189.8 L1153.2 190.1 L1155.0 190.5 L1156.0 190.8 M1184.2 203.8 L1185.4 204.7 L1186.6 205.6 L1187.7 206.6 L1188.8 207.5 L1189.9 208.5 L1190.9 209.6 L1191.9 210.6 L1192.9 211.7 L1193.9 212.7 L1194.9 213.8 L1195.9 215.0 L1196.9 216.1 L1198.0 217.3 L1199.0 218.5 L1200.1 219.8 L1201.2 221.0 L1202.3 222.3 M1225.1 250.5 L1226.2 251.7 L1227.3 253.0 L1228.3 254.2 L1229.3 255.3 L1230.3 256.4 L1231.3 257.5 L1232.2 258.6 L1233.2 259.7 L1234.2 260.7 L1235.1 261.8 L1236.1 262.9 L1237.1 264.0 L1238.0 265.1 L1239.0 266.2 L1240.1 267.4 L1241.1 268.6 L1242.1 269.9 M1264.0 297.1 L1265.1 298.3 L1266.2 299.5 L1267.2 300.6 L1268.3 301.7 L1269.3 302.7 L1270.3 303.7 L1271.3 304.7 L1272.3 305.7 L1273.3 306.7 L1274.3 307.7 L1275.3 308.7 L1276.3 309.7 L1277.3 310.8 L1278.4 311.9 L1279.4 313.1 L1280.4 314.4 L1281.5 315.7 L1282.0 316.4 M1300.9 344.3 L1301.9 345.8 L1302.9 347.2 L1303.9 348.6 L1304.8 349.9 L1305.7 351.1 L1306.5 352.3 L1307.3 353.4 L1308.2 354.5 L1309.0 355.7 L1309.7 356.8 L1310.5 358.0 L1311.3 359.2 L1312.1 360.5 L1312.8 361.8 L1313.6 363.2 M1326.4 391.6 L1327.1 393.0 L1327.7 394.4 L1328.3 395.8 L1328.9 397.1 L1329.5 398.3 L1330.1 399.6 L1330.7 400.9 L1331.3 402.2 L1331.9 403.5 L1332.4 404.9 L1333.0 406.3 L1333.6 407.8 L1334.2 409.3 L1334.6 410.4 M1343.6 438.5 L1344.1 440.0 L1344.6 441.7 L1345.1 443.2 L1345.6 444.6 L1346.1 445.9 L1346.5 447.2 L1347.0 448.5 L1347.4 449.8 L1347.8 451.1 L1348.3 452.4 L1348.7 453.8 L1349.2 455.2 L1349.7 456.8 L1350.0 457.8 M1358.0 485.6 L1358.5 487.4 L1359.0 489.0 L1359.4 490.4 L1359.8 491.8 L1360.2 493.1 L1360.5 494.4 L1360.9 495.7 L1361.3 497.0 L1361.7 498.4 L1362.1 499.8 L1362.5 501.4 L1363.0 503.2 L1363.4 504.6 M1371.0 532.3 L1371.4 534.1 L1371.8 535.7 L1372.1 537.3 L1372.4 538.7 L1372.6 540.1 L1372.9 541.5 L1373.1 542.8 L1373.3 544.1 L1373.6 545.5 L1373.8 547.0 L1374.1 548.5 L1374.4 550.1 L1374.7 551.2 M1381.4 579.6 L1381.8 581.3 L1382.2 582.8 L1382.5 584.3 L1382.8 585.7 L1383.1 587.1 L1383.4 588.4 L1383.6 589.7 L1383.9 591.1 L1384.2 592.5 L1384.4 594.0 L1384.7 595.5 L1385.0 597.2 L1385.2 598.4 M1389.0 626.6 L1389.3 628.2 L1389.7 629.8 L1390.1 631.4 L1390.4 632.9 L1390.8 634.3 L1391.2 635.6 L1391.6 636.9 L1392.0 638.3 L1392.4 639.6 L1392.8 641.0 L1393.2 642.4 L1393.6 643.9 L1394.0 645.6 M1399.3 673.1 L1399.6 674.5 L1400.0 676.2 L1400.3 677.8 L1400.6 679.2 L1400.8 680.5 L1401.1 681.9 L1401.4 683.1 L1401.6 684.4 L1401.9 685.8 L1402.2 687.2 L1402.5 688.7 L1402.9 690.3 L1403.3 692.1 M1409.7 720.0 L1410.0 721.4 L1410.2 722.7 L1410.4 723.9 L1410.7 725.2 L1410.9 726.6 L1411.2 727.9 L1411.4 729.3 L1411.7 730.7 L1411.9 732.2 L1412.2 733.6 L1412.4 735.1 L1412.7 736.6 L1412.9 738.1 L1413.1 739.1 M1417.8 767.0 L1418.0 768.5 L1418.3 769.9 L1418.5 771.4 L1418.8 772.9 L1419.0 774.4 L1419.3 775.9 L1419.5 777.3 L1419.8 778.8 L1420.0 780.3 L1420.3 781.8 L1420.6 783.3 L1420.8 784.8 L1421.0 785.8 M1425.6 813.7 L1425.8 815.2 L1426.0 816.7 L1426.2 818.2 L1426.4 819.6 L1426.7 821.1 L1426.9 822.6 L1427.1 824.1 L1427.3 825.6 L1427.5 827.1 L1427.7 828.5 L1427.9 830.0 L1428.1 831.5 L1428.3 832.5 M1432.0 860.4 L1432.2 861.9 L1432.4 863.4 L1432.6 864.9 L1432.8 866.4 L1433.1 867.9 L1433.3 869.4 L1433.5 870.9 L1433.7 872.4 L1433.9 873.9 L1434.1 875.4 L1434.3 876.9 L1434.5 878.4 L1434.6 879.4 M1438.4 907.4 L1438.6 908.9 L1438.8 910.4 L1439.0 911.9 L1439.2 913.4 L1439.4 914.9 L1439.7 916.4 L1439.9 917.9 L1440.1 919.4 L1440.3 920.9 L1440.5 922.4 L1440.7 923.8 L1440.9 925.3 L1441.0 926.3 M1445.1 954.5 L1445.3 955.9 L1445.6 957.4 L1445.8 958.8 L1446.0 960.3 L1446.3 961.8 L1446.5 963.3 L1446.7 964.7 L1447.0 966.2 L1447.2 967.7 L1447.5 969.2 L1447.7 970.7 L1448.0 972.2 L1448.1 973.2 M1452.6 1001.0 L1452.8 1002.5 L1453.0 1004.0 L1453.3 1005.5 L1453.5 1007.0 L1453.7 1008.5 L1453.9 1010.0 L1454.1 1011.5 L1454.3 1013.0 L1454.5 1014.5 L1454.7 1016.0 L1454.9 1017.5 L1455.1 1019.0 L1455.3 1020.0 M1459.2 1048.2 L1459.4 1049.7 L1459.6 1051.2 L1459.9 1052.7 L1460.1 1054.1 L1460.4 1055.6 L1460.6 1057.1 L1460.8 1058.6 L1461.1 1060.1 L1461.3 1061.6 L1461.6 1063.1 L1461.8 1064.6 L1462.1 1066.0 L1462.2 1067.0 M1467.0 1094.8 L1467.2 1096.3 L1467.5 1097.8 L1467.7 1099.3 L1468.0 1100.7 L1468.2 1102.2 L1468.4 1103.7 L1468.7 1105.2 L1468.9 1106.7 L1469.2 1108.2 L1469.4 1109.7 L1469.6 1111.2 L1469.9 1112.6 L1470.1 1114.1 M1474.9 1142.0 L1475.2 1143.5 L1475.5 1145.0 L1475.8 1146.6 L1476.1 1148.1 L1476.4 1149.7 L1476.7 1151.3 L1477.0 1152.9 L1477.4 1154.5 L1477.7 1156.2 L1478.0 1157.8 L1478.4 1159.4 L1478.7 1161.0 M1484.8 1189.2 L1485.3 1191.4 L1485.8 1193.4 L1486.2 1195.0 L1486.6 1196.5 L1486.9 1197.8 L1487.3 1199.0 L1487.6 1200.1 L1487.9 1201.1 L1488.3 1202.2 L1488.6 1203.4 L1488.9 1204.7 L1489.3 1206.1 L1489.7 1207.8 M1495.7 1236.2 L1496.2 1237.8 L1496.6 1239.5 L1497.0 1241.0 L1497.4 1242.6 L1497.8 1244.1 L1498.2 1245.6 L1498.6 1247.0 L1499.1 1248.5 L1499.5 1249.9 L1499.9 1251.3 L1500.3 1252.6 L1500.7 1254.0 L1501.0 1254.9 M1510.2 1280.1 L1511.0 1281.2 L1511.5 1281.9 L1511.6 1282.0 L1512.1 1282.3 L1512.9 1282.8 L1514.2 1283.6 L1515.7 1284.5 L1517.3 1285.5 L1519.1 1286.6 L1520.8 1287.7 L1522.5 1288.7 L1524.0 1289.6 L1525.2 1290.3 L1527.0 1291.4 L1527.7 1291.8 M1536.6 1270.2 L1536.8 1268.9 L1537.0 1267.6 L1537.2 1266.3 L1537.4 1265.0 L1537.5 1263.6 L1537.7 1262.1 L1537.9 1260.6 L1538.1 1259.1 L1538.3 1257.5 L1538.5 1255.8 L1538.7 1254.1 L1538.9 1252.3 L1539.0 1251.7 M1541.6 1223.8 L1541.9 1222.1 L1542.2 1220.5 L1542.5 1218.9 L1542.8 1217.4 L1543.2 1216.0 L1543.5 1214.6 L1543.9 1213.2 L1544.2 1211.8 L1544.6 1210.4 L1544.9 1209.0 L1545.2 1207.5 L1545.5 1206.0 L1545.8 1204.4 M1548.7 1176.3 L1548.9 1174.7 L1549.1 1173.1 L1549.3 1171.6 L1549.5 1170.1 L1549.7 1168.7 L1549.9 1167.3 L1550.1 1165.9 L1550.3 1164.4 L1550.5 1163.0 L1550.7 1161.5 L1550.9 1159.9 L1551.0 1158.3 L1551.1 1157.2 M1553.0 1129.5 L1553.1 1128.1 L1553.2 1126.7 L1553.3 1125.2 L1553.4 1123.7 L1553.5 1122.2 L1553.6 1120.8 L1553.7 1119.3 L1553.8 1117.7 L1553.9 1116.2 L1554.1 1114.7 L1554.2 1113.2 L1554.3 1111.7 L1554.3 1110.6 M1555.9 1083.3 L1556.0 1081.8 L1556.0 1080.3 L1556.1 1078.8 L1556.2 1077.3 L1556.3 1075.7 L1556.3 1074.2 L1556.4 1072.6 L1556.5 1071.1 L1556.5 1069.5 L1556.6 1068.1 L1556.6 1066.6 L1556.7 1065.1 L1556.7 1064.1 M1557.6 1036.0 L1557.7 1034.3 L1557.7 1032.6 L1557.8 1031.0 L1557.8 1029.4 L1557.9 1027.8 L1557.9 1026.2 L1558.0 1024.7 L1558.0 1023.2 L1558.1 1021.7 L1558.1 1020.2 L1558.2 1018.8 L1558.2 1017.4 L1558.2 1016.9 M1559.4 989.0 L1559.5 987.5 L1559.6 986.0 L1559.6 984.5 L1559.7 983.1 L1559.8 981.7 L1559.9 980.4 L1560.0 978.9 L1560.1 977.5 L1560.2 976.0 L1560.3 974.5 L1560.3 972.8 L1560.4 971.1 L1560.5 969.9 M1561.7 941.9 L1561.8 940.3 L1561.8 938.8 L1561.9 937.2 L1562.0 935.7 L1562.0 934.2 L1562.1 932.6 L1562.2 931.1 L1562.2 929.5 L1562.3 928.0 L1562.4 926.5 L1562.5 925.0 L1562.5 923.4 L1562.5 922.9 M1563.8 894.8 L1563.9 893.1 L1564.0 891.3 L1564.0 889.6 L1564.1 888.3 L1564.1 887.0 L1564.1 885.7 L1564.2 884.4 L1564.2 883.0 L1564.2 881.5 L1564.3 880.1 L1564.3 878.6 L1564.3 877.1 L1564.4 875.6 M1565.1 848.0 L1565.1 846.5 L1565.2 845.0 L1565.2 843.5 L1565.3 842.0 L1565.3 840.5 L1565.4 839.0 L1565.4 837.5 L1565.5 836.0 L1565.5 834.5 L1565.6 833.0 L1565.7 831.5 L1565.7 830.0 L1565.8 829.0 M1566.8 800.9 L1566.9 799.3 L1567.0 797.8 L1567.0 796.3 L1567.1 794.7 L1567.1 793.2 L1567.2 791.7 L1567.2 790.1 L1567.3 788.6 L1567.4 787.1 L1567.4 785.6 L1567.5 784.0 L1567.5 782.5 M1568.6 755.2 L1568.7 753.6 L1568.7 752.1 L1568.8 750.6 L1568.8 749.1 L1568.9 747.7 L1569.0 746.2 L1569.0 744.7 L1569.1 743.3 L1569.2 741.9 L1569.2 740.4 L1569.3 739.0 L1569.3 737.6 L1569.4 736.2 M1570.7 707.7 L1570.8 705.9 L1570.9 704.3 L1571.0 702.7 L1571.1 701.3 L1571.2 699.9 L1571.3 698.5 L1571.4 697.2 L1571.5 695.9 L1571.6 694.5 L1571.7 693.0 L1571.8 691.5 L1571.9 689.9 L1572.0 688.8 M1573.3 661.0 L1573.4 659.5 L1573.5 658.0 L1573.5 656.5 L1573.6 655.1 L1573.7 653.7 L1573.8 652.3 L1573.8 650.9 L1573.9 649.4 L1574.0 648.0 L1574.1 646.6 L1574.1 645.1 L1574.2 643.6 L1574.3 642.1 L1574.3 641.6 M1575.4 613.6 L1575.4 612.0 L1575.5 610.5 L1575.5 608.9 L1575.6 607.2 L1575.6 605.6 L1575.7 603.9 L1575.7 602.3 L1575.8 600.6 L1575.8 599.1 L1575.9 597.7 L1575.9 596.4 L1576.0 594.9 L1576.0 594.5 M1576.8 566.4 L1576.9 564.9 L1576.9 563.3 L1577.0 561.8 L1577.0 560.3 L1577.1 558.9 L1577.1 557.4 L1577.2 555.9 L1577.2 554.5 L1577.3 552.9 L1577.3 551.3 L1577.4 549.7 L1577.5 548.2 L1577.5 547.6 M1578.8 519.7 L1578.9 518.3 L1578.9 516.9 L1579.0 515.5 L1579.0 513.9 L1579.1 512.3 L1579.2 510.7 L1579.3 509.2 L1579.3 507.6 L1579.4 506.0 L1579.5 504.5 L1579.5 502.9 L1579.6 501.4 L1579.6 500.9 M1580.9 472.5 L1580.9 471.0 L1581.0 469.4 L1581.1 467.9 L1581.2 466.3 L1581.2 464.8 L1581.3 463.3 L1581.4 461.8 L1581.5 460.3 L1581.5 458.9 L1581.6 457.4 L1581.7 456.0 L1581.8 454.6 L1581.8 453.7 M1583.3 426.0 L1583.4 424.4 L1583.4 422.8 L1583.4 421.4 L1583.5 420.0 L1583.5 418.6 L1583.5 417.2 L1583.5 415.8 L1583.5 414.4 L1583.5 413.0 L1583.5 411.5 L1583.6 409.9 L1583.6 408.3 L1583.7 407.1 M1585.3 378.7 L1585.4 377.1 L1585.5 375.4 L1585.6 373.8 L1585.6 372.4 L1585.7 371.0 L1585.8 369.6 L1585.9 368.3 L1586.0 367.0 L1586.0 365.6 L1586.1 364.2 L1586.2 362.7 L1586.2 361.0 L1586.3 359.8 M1587.2 331.5 L1587.3 329.8 L1587.4 328.2 L1587.4 326.7 L1587.5 325.2 L1587.5 323.8 L1587.6 322.3 L1587.7 320.9 L1587.7 319.4 L1587.8 318.0 L1587.9 316.5 L1588.0 315.0 L1588.1 313.4 L1588.1 312.3 M1590.3 284.3 L1590.5 282.6 L1590.7 281.1 L1591.0 279.6 L1591.2 278.2 L1591.5 276.9 L1591.8 275.6 L1592.1 274.3 L1592.3 272.9 L1592.6 271.5 L1592.9 270.0 L1593.2 268.3 L1593.5 266.5 L1593.7 265.2 M1597.6 237.0 L1597.8 235.4 L1598.1 233.8 L1598.4 232.3 L1598.6 230.9 L1598.9 229.5 L1599.1 228.1 L1599.4 226.7 L1599.6 225.4 L1599.9 224.0 L1600.1 222.5 L1600.4 221.0 L1600.6 219.5 L1600.8 218.4 M1604.5 192.0 L1605.1 190.6 L1605.8 189.1 L1606.6 187.7 L1607.3 186.3 L1608.2 185.0 L1609.0 183.7 L1610.0 182.5 L1611.0 181.3 L1612.0 180.3 L1613.2 179.2 L1614.4 178.3 L1615.6 177.5 L1617.0 176.7 L1618.4 176.0 L1619.2 175.7 M1647.3 174.0 L1648.9 174.1 L1650.4 174.2 L1651.8 174.3 L1653.2 174.4 L1654.6 174.6 L1656.0 174.8 L1657.4 175.0 L1658.9 175.2 L1660.3 175.4 L1661.8 175.6 L1663.4 175.8 L1665.1 176.0 L1666.5 176.2 M1693.9 180.5 L1695.4 180.9 L1696.9 181.2 L1698.3 181.6 L1699.7 182.1 L1701.1 182.5 L1702.5 182.9 L1703.9 183.3 L1705.3 183.7 L1706.7 184.2 L1708.2 184.6 L1709.6 185.0 L1711.1 185.3 L1712.2 185.6 M1738.6 190.2 L1740.2 190.2 L1741.7 190.1 L1743.2 190.0 L1744.6 189.8 L1746.0 189.6 L1747.4 189.3 L1748.8 189.0 L1750.2 188.8 L1751.7 188.5 L1753.1 188.2 L1754.6 188.0 L1756.2 187.8 L1757.3 187.8 M1785.7 188.8 L1787.2 189.1 L1788.7 189.3 L1790.2 189.6 L1791.6 189.9 L1793.1 190.2 L1794.5 190.6 L1795.9 191.0 L1797.3 191.4 L1798.7 191.9 L1800.1 192.5 L1801.4 193.1 L1802.8 193.8 L1804.2 194.6 L1804.7 194.8 M1830.6 221.2 L1831.7 222.3 L1832.8 223.5 L1833.8 224.6 L1834.9 225.6 L1835.9 226.7 L1836.9 227.8 L1837.9 228.8 L1838.9 229.8 L1839.8 230.9 L1840.8 231.9 L1841.8 233.0 L1842.8 234.0 L1843.8 235.1 L1844.8 236.2 L1845.8 237.3 L1846.9 238.5 L1847.9 239.7 L1848.3 240.1 M1871.2 267.3 L1872.2 268.6 L1873.3 269.9 L1874.3 271.1 L1875.2 272.4 L1876.2 273.5 L1877.1 274.7 L1877.9 275.9 L1878.8 277.0 L1879.7 278.1 L1880.5 279.3 L1881.3 280.5 L1882.2 281.6 L1883.0 282.9 L1883.8 284.1 L1884.7 285.4 L1884.9 285.8 M1900.1 314.5 L1900.8 315.9 L1901.5 317.3 L1902.2 318.7 L1902.8 320.0 L1903.4 321.3 L1904.1 322.7 L1904.7 324.0 L1905.3 325.3 L1905.9 326.6 L1906.6 328.0 L1907.2 329.3 L1907.8 330.6 L1908.4 332.0 L1909.0 333.4 L1909.2 333.8 M1921.2 362.1 L1922.0 363.6 L1922.7 365.0 L1923.5 366.4 L1924.2 367.7 L1925.0 368.9 L1925.8 370.1 L1926.5 371.3 L1927.3 372.5 L1928.0 373.7 L1928.8 374.9 L1929.6 376.2 L1930.3 377.6 L1931.1 379.1 L1931.8 380.7 L1932.3 381.6 M1943.2 410.3 L1944.0 411.9 L1944.7 413.3 L1945.4 414.7 L1946.2 416.0 L1946.9 417.3 L1947.6 418.6 L1948.4 419.8 L1949.1 421.1 L1949.8 422.3 L1950.5 423.5 L1951.2 424.8 L1951.9 426.1 L1952.6 427.4 L1953.3 428.8 L1953.5 429.2 M1962.9 456.7 L1963.5 458.2 L1964.1 459.5 L1964.7 460.9 L1965.3 462.3 L1965.9 463.6 L1966.5 465.0 L1967.2 466.3 L1967.8 467.6 L1968.4 469.0 L1969.0 470.4 L1969.6 471.7 L1970.2 473.2 L1970.8 474.6 L1971.0 475.1 M1980.0 503.0 L1980.6 504.6 L1981.1 506.1 L1981.7 507.5 L1982.3 508.9 L1982.9 510.3 L1983.4 511.6 L1984.0 512.9 L1984.6 514.3 L1985.1 515.6 L1985.7 517.0 L1986.3 518.4 L1986.9 519.8 L1987.4 521.3 L1987.6 521.8 M1996.6 550.3 L1997.2 551.8 L1997.7 553.2 L1998.2 554.6 L1998.8 556.0 L1999.3 557.4 L1999.8 558.7 L2000.4 560.1 L2000.9 561.4 L2001.4 562.8 L2002.0 564.2 L2002.5 565.6 L2003.1 567.0 L2003.6 568.5 L2003.8 569.0 M2012.3 597.1 L2012.8 598.6 L2013.5 600.8 L2014.2 602.7 L2014.8 604.3 L2015.3 605.6 L2015.8 606.7 L2016.2 607.7 L2016.5 608.5 L2016.6 608.7" fill="none" stroke="#000" stroke-width="5.4" stroke-linejoin="round" stroke-linecap="round"/>
<path d="M299.3 1206.4 L300.6 1218 L301.6 1228 M302.2 1219 L305 1216.4 L307.5 1207 L310 1197.5" fill="none" stroke="#000" stroke-width="5.4" stroke-linejoin="round" stroke-linecap="round"/>
<rect x="247.5" y="21.5" width="1769.0" height="1304.0" fill="none" stroke="#000" stroke-width="5.6" stroke-linejoin="round"/>
<!-- arrows -->
<line x1="932" y1="535.5" x2="1049" y2="535.5" stroke="#000" stroke-width="5.3" stroke-linecap="round"/>
<polygon points="898,535.5 931,526.5 931,544.5" fill="#000" stroke="#000" stroke-width="3" stroke-linejoin="round"/>
<line x1="1607" y1="535.7" x2="1726" y2="535.7" stroke="#000" stroke-width="5.3" stroke-linecap="round" stroke-dasharray="19 28"/>
<polygon points="1758,535.7 1726,526.5 1726,545" fill="#000" stroke="#000" stroke-width="3" stroke-linejoin="round"/>
<g font-size="54.5">
<text transform="translate(404.5 1393.3) scale(0.965 1.025)" text-anchor="middle">150</text>
<text transform="translate(601.0 1393.3) scale(0.965 1.025)" text-anchor="middle">300</text>
<text transform="translate(797.5 1393.3) scale(0.965 1.025)" text-anchor="middle">450</text>
<text transform="translate(994.1 1393.3) scale(0.965 1.025)" text-anchor="middle">600</text>
<text transform="translate(1190.6 1393.3) scale(0.965 1.025)" text-anchor="middle">750</text>
<text transform="translate(1387.1 1393.3) scale(0.965 1.025)" text-anchor="middle">900</text>
<text transform="translate(1583.7 1393.3) scale(0.965 1.025)" text-anchor="middle">1050</text>
<text transform="translate(1780.2 1393.3) scale(0.965 1.025)" text-anchor="middle">1200</text>
<text transform="translate(1976.7 1393.3) scale(0.965 1.025)" text-anchor="middle">1350</text>
<text transform="translate(221.5 1303.3) scale(0.965 1.025)" text-anchor="end">15</text>
<text transform="translate(221.5 1086.0) scale(0.965 1.025)" text-anchor="end">30</text>
<text transform="translate(221.5 868.6) scale(0.965 1.025)" text-anchor="end">45</text>
<text transform="translate(221.5 651.3) scale(0.965 1.025)" text-anchor="end">60</text>
<text transform="translate(221.5 433.9) scale(0.965 1.025)" text-anchor="end">75</text>
<text transform="translate(221.5 216.6) scale(0.965 1.025)" text-anchor="end">90</text>
<text transform="translate(2042.5 146.9) scale(0.965 1.025)">-0.03</text>
<text transform="translate(2042.5 370.9) scale(0.965 1.025)">-0.06</text>
<text transform="translate(2042.5 594.8) scale(0.965 1.025)">-0.09</text>
<text transform="translate(2042.5 818.8) scale(0.965 1.025)">-0.12</text>
<text transform="translate(2042.5 1042.7) scale(0.965 1.025)">-0.15</text>
<text transform="translate(2042.5 1266.7) scale(0.965 1.025)">-0.18</text>
</g>
<text x="366.5" y="1238.5" font-size="72">SI melanin</text>
<text transform="translate(907 1504.5) scale(0.98 1)" font-size="66">Temperature (<tspan font-size="45" dx="1.5" dy="-35">o</tspan><tspan dx="-2.5" dy="35">C)</tspan></text>
<text transform="translate(75,934) rotate(-90)" font-size="66">Weight loss (%)</text>
<text transform="translate(2238 900.5) rotate(-90) scale(0.986 1)" font-size="66">DTG (mg/<tspan font-size="42" dy="-35">o</tspan><tspan dy="35">C)</tspan></text>
</g>
</svg>
</body></html>
